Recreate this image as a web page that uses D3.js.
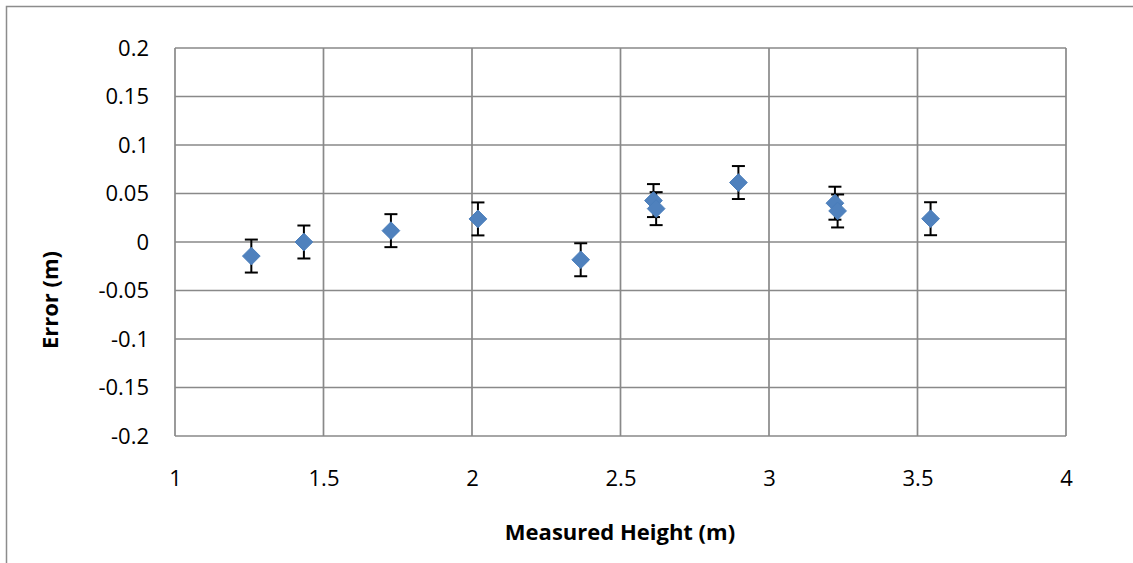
<!DOCTYPE html>
<html>
<head>
<meta charset="utf-8">
<script src="https://cdn.jsdelivr.net/npm/d3@7"></script>
<style>
  body { margin: 0; background: #fff; }
  text { font-family: "Open Sans", sans-serif; fill: #000; }
</style>
</head>
<body>
<div id="chart"></div>
<script>
// measured data
var heights = [1.257, 1.434, 1.727, 2.02, 2.366, 2.611, 2.62, 2.897, 3.222, 3.231, 3.544];
var errors  = [-0.0145, 0.0, 0.0117, 0.0238, -0.0183, 0.0427, 0.0344, 0.0613, 0.040, 0.032, 0.024];
var errBars = [0.017, 0.017, 0.017, 0.017, 0.017, 0.017, 0.017, 0.017, 0.017, 0.017, 0.017];
var xTicks = [1, 1.5, 2, 2.5, 3, 3.5, 4];
var yTicks = [-0.2, -0.15, -0.1, -0.05, 0, 0.05, 0.1, 0.15, 0.2];

var width = 1133;
var height = 563;
var plotLeft = 175, plotTop = 48, plotRight = 1066, plotBottom = 436;

var svg = d3.select("#chart")
    .append("svg")
    .attr("width", width)
    .attr("height", height);

// outer chart border
svg.append("path")
    .attr("d", "M6.5,563 L6.5,6.5 L1133,6.5")
    .attr("fill", "none")
    .attr("stroke", "#8c8c8c")
    .attr("stroke-width", 1.5);

var x = d3.scaleLinear().domain([1, 4]).range([plotLeft, plotRight]);
var y = d3.scaleLinear().domain([-0.2, 0.2]).range([plotBottom, plotTop]);

var grid = svg.append("g");

grid.selectAll(".vgrid")
    .data(xTicks)
    .enter().append("line")
    .attr("x1", function(d){ return x(d); })
    .attr("x2", function(d){ return x(d); })
    .attr("y1", plotTop)
    .attr("y2", plotBottom)
    .attr("stroke", "#898989")
    .attr("stroke-width", 1.7);

grid.selectAll(".hgrid")
    .data(yTicks)
    .enter().append("line")
    .attr("x1", plotLeft)
    .attr("x2", plotRight)
    .attr("y1", function(d){ return y(d); })
    .attr("y2", function(d){ return y(d); })
    .attr("stroke", "#898989")
    .attr("stroke-width", 1.7);

// tick labels
var xAxis = d3.axisBottom(x).tickValues(xTicks).tickSize(0).tickPadding(34)
    .tickFormat(function(d){ return String(d); });
var gx = svg.append("g").attr("transform", "translate(0," + plotBottom + ")").call(xAxis);
gx.select(".domain").remove();
gx.selectAll("text").style("font-size", "22px").style("font-family", "Open Sans, sans-serif").attr("fill", "#000");

var yAxis = d3.axisLeft(y).tickValues(yTicks).tickSize(0).tickPadding(26)
    .tickFormat(function(d){ return String(+d.toFixed(2)); });
var gy = svg.append("g").attr("transform", "translate(" + plotLeft + ",0)").call(yAxis);
gy.select(".domain").remove();
gy.selectAll("text").style("font-size", "22px").style("font-family", "Open Sans, sans-serif").attr("fill", "#000");

// axis titles
svg.append("text")
    .attr("x", 620)
    .attr("y", 540)
    .attr("text-anchor", "middle")
    .style("font-size", "22px")
    .style("font-weight", "bold")
    .text("Measured Height (m)");

svg.append("text")
    .attr("transform", "translate(58,300) rotate(-90)")
    .attr("text-anchor", "middle")
    .style("font-size", "22px")
    .style("font-weight", "bold")
    .text("Error (m)");

var points = heights.map(function(h, i){
    return { h: h, e: errors[i], bar: errBars[i] };
});

// error bars
var bars = svg.append("g").selectAll(".bar")
    .data(points)
    .enter().append("g")
    .attr("stroke", "#000")
    .attr("stroke-width", 2);

bars.append("line")
    .attr("x1", function(d){ return x(d.h); })
    .attr("x2", function(d){ return x(d.h); })
    .attr("y1", function(d){ return y(d.e + d.bar); })
    .attr("y2", function(d){ return y(d.e - d.bar); });

bars.append("line")
    .attr("x1", function(d){ return x(d.h) - 6.5; })
    .attr("x2", function(d){ return x(d.h) + 6.5; })
    .attr("y1", function(d){ return y(d.e + d.bar); })
    .attr("y2", function(d){ return y(d.e + d.bar); });

bars.append("line")
    .attr("x1", function(d){ return x(d.h) - 6.5; })
    .attr("x2", function(d){ return x(d.h) + 6.5; })
    .attr("y1", function(d){ return y(d.e - d.bar); })
    .attr("y2", function(d){ return y(d.e - d.bar); });

// diamonds
var diamond = d3.symbol().type(d3.symbolDiamond2).size(200);

svg.append("g").selectAll(".pt")
    .data(points)
    .enter().append("path")
    .attr("d", diamond)
    .attr("transform", function(d){ return "translate(" + x(d.h) + "," + y(d.e) + ")"; })
    .attr("fill", "#4f81bd")
    .attr("stroke", "#4a7ebb")
    .attr("stroke-width", 1);
</script>
</body>
</html>
